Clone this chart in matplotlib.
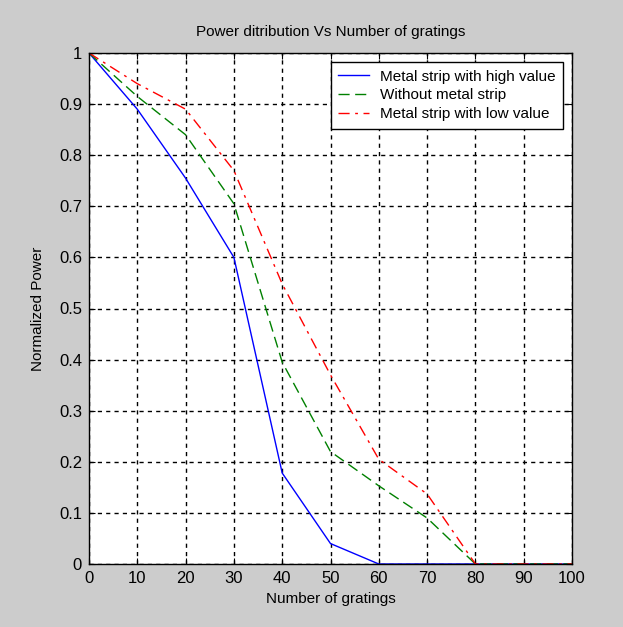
import matplotlib
matplotlib.use("Agg")
import matplotlib.pyplot as plt

plt.rcParams['font.family'] = ['Liberation Sans Narrow', 'Liberation Sans', 'DejaVu Sans']

gratings = [0, 10, 20, 30, 40, 50, 60, 70, 80, 90, 100]
high_value = [1.0, 0.89, 0.755, 0.60, 0.178, 0.04, 0.0, 0.0, 0.0, 0.0, 0.0]
no_strip = [1.0, 0.915, 0.84, 0.705, 0.395, 0.22, 0.153, 0.09, 0.0, 0.0, 0.0]
low_value = [1.0, 0.94, 0.89, 0.77, 0.548, 0.37, 0.205, 0.137, 0.0, 0.0, 0.0]

xticks = list(range(0, 101, 10))
yticks = [0, 0.1, 0.2, 0.3, 0.4, 0.5, 0.6, 0.7, 0.8, 0.9, 1]
ytick_labels = ['0', '0.1', '0.2', '0.3', '0.4', '0.5', '0.6', '0.7', '0.8', '0.9', '1']

bg = '#cccccc'
fig = plt.figure(figsize=(6.23, 6.27), dpi=100, facecolor=bg)
ax = fig.add_axes([89/623, 1 - 564/627, 483/623, 511/627])
ax.set_facecolor('white')

ax.plot(gratings, high_value, color='#0000ff', lw=1.0, ls='-', label='Metal strip with high value')
ax.plot(gratings, no_strip, color='#008000', lw=1.0, ls=(0, (8, 4)), label='Without metal strip')
ax.plot(gratings, low_value, color='#ff0000', lw=1.0, ls=(0, (8, 4, 2, 4)), label='Metal strip with low value')

ax.set_xlim(0, 100)
ax.set_ylim(0, 1)
ax.set_xticks(xticks)
ax.set_yticks(yticks)
ax.set_yticklabels(ytick_labels)
ax.tick_params(direction='in', length=4, labelsize=12, top=True, right=True, pad=5)
ax.grid(True, color='black', ls=(0, (3, 3)), lw=1.0)
for s in ax.spines.values():
    s.set_linewidth(1.0)

ax.set_title('Power ditribution Vs Number of gratings', fontsize=11, pad=12)
ax.set_xlabel('Number of gratings', fontsize=11, labelpad=4)
ax.set_ylabel('Normalized Power', fontsize=11, labelpad=10)

leg = ax.legend(loc='upper right', fontsize=11, fancybox=False, framealpha=1,
                edgecolor='black', borderaxespad=0.6, handlelength=2.0,
                handletextpad=0.7, labelspacing=0.3, borderpad=0.5)
leg.get_frame().set_linewidth(1.0)

fig.savefig('out.png', dpi=100, facecolor=bg)
